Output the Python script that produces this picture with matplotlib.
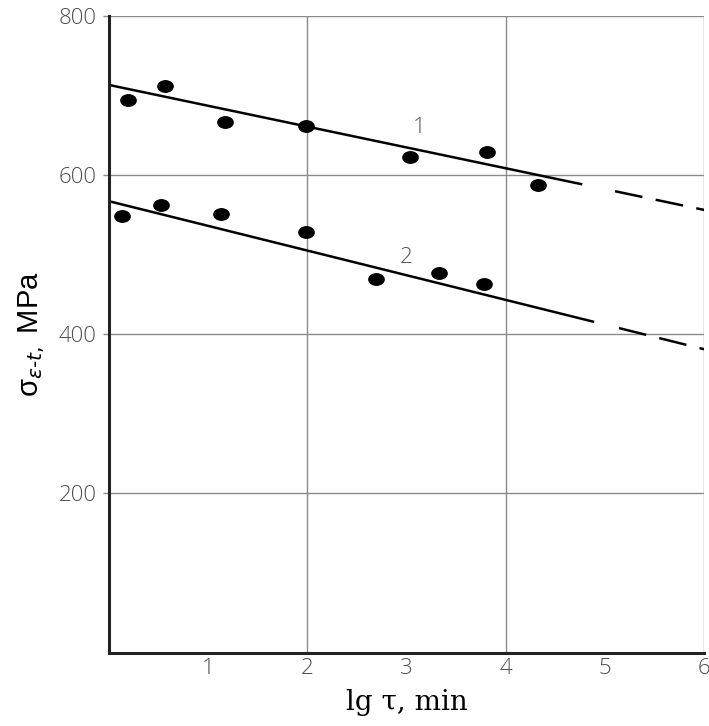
import numpy as np
import matplotlib.pyplot as plt
from matplotlib.path import Path
from matplotlib.transforms import Affine2D

# measured points, curve 1 and curve 2
x1 = [0.19, 0.56, 1.17, 1.99, 3.03, 3.81, 4.32]
y1 = [694, 712, 666, 662, 623, 629, 587]
x2 = [0.13, 0.52, 1.13, 1.99, 2.69, 3.33, 3.78]
y2 = [549, 562, 551, 528, 469, 477, 463]

# fitted lines: value at lg t = 0 and at lg t = 6, end of solid part, start of dashed part
line1 = [713, 556]
line2 = [567, 381]
solid_end = [4.77, 4.89]
dash_start = [5.10, 5.14]

xticks = [1, 2, 3, 4, 5, 6]
yticks = [200, 400, 600, 800]


def line_val(ends, x):
    return ends[0] + (ends[1] - ends[0]) * np.asarray(x) / 6.0


def main():
    fig = plt.figure(figsize=(7.09, 7.26), dpi=100)
    ax = fig.add_axes([0.1537, 0.101, 0.8397, 0.8774])

    ax.set_xlim(0, 6)
    ax.set_ylim(0, 800)

    # grid lines
    for gx in [2, 4, 6]:
        ax.axvline(gx, color='#8a8a8a', lw=1, zorder=1)
    for gy in yticks:
        ax.axhline(gy, color='#8a8a8a', lw=1, zorder=1)

    # elliptical dot marker
    dot = Path.unit_circle().transformed(Affine2D().scale(1.0, 0.75))

    for ends, se, ds, xs, ys, lab, lx, ly in [
        (line1, solid_end[0], dash_start[0], x1, y1, '1', 3.13, 660),
        (line2, solid_end[1], dash_start[1], x2, y2, '2', 2.99, 496),
    ]:
        xa = [0, se]
        ax.plot(xa, line_val(ends, xa), color='black', lw=1.8, zorder=3,
                solid_capstyle='butt')
        xb = [ds, 6]
        ax.plot(xb, line_val(ends, xb), color='black', lw=1.8, zorder=3,
                dashes=(11.2, 5.4), dash_capstyle='butt')
        ax.plot(xs, ys, ls='none', marker=dot, ms=11, color='black', zorder=4)
        ax.text(lx, ly, lab, fontsize=16, color='#555555', family='Open Sans',
                fontweight='light', ha='center', va='center')

    ax.set_xticks(xticks)
    ax.set_xticklabels([str(v) for v in xticks], family='Open Sans', fontsize=16,
                       fontweight='light', color='#4d4d4d')
    ax.set_yticks(yticks)
    ax.set_yticklabels([str(v) for v in yticks], family='Open Sans', fontsize=16,
                       fontweight='light', color='#4d4d4d')
    ax.tick_params(axis='x', length=0, pad=4)
    ax.tick_params(axis='y', length=4, width=1, color='#8a8a8a', pad=5)
    ax.set_xticks([1, 3, 5], minor=True)
    ax.tick_params(axis='x', which='minor', direction='in', length=6, width=2,
                   color='black')

    for side in ['left', 'bottom']:
        ax.spines[side].set_linewidth(2.2)
        ax.spines[side].set_color('#222222')
        ax.spines[side].set_zorder(5)
    for side in ['top', 'right']:
        ax.spines[side].set_visible(False)

    ax.set_xlabel('lg τ, min', family='DejaVu Serif', fontsize=20, labelpad=7)
    ax.set_ylabel('σ$_{ε\u2010t,}$ MPa', family='Liberation Sans', fontsize=21,
                  labelpad=8)

    fig.savefig('out.png', dpi=100)


if __name__ == '__main__':
    main()
